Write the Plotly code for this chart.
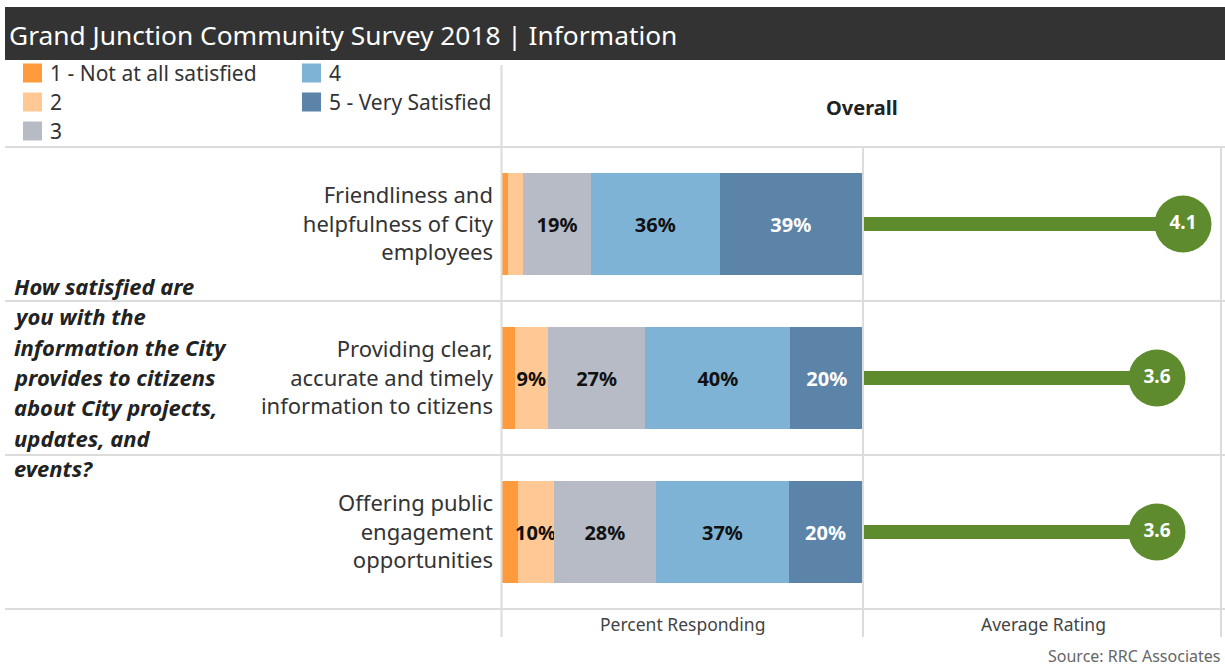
import plotly.graph_objects as go

W, H = 1225, 668

# ---------------- data ----------------
TITLE = "Grand Junction Community Survey 2018 | Information"
QUESTION_LINES = ["How satisfied are", "you with the", "information the City",
                  "provides to citizens", "about City projects,", "updates, and", "events?"]
ITEMS = ["Friendliness and<br>helpfulness of City<br>employees",
         "Providing clear,<br>accurate and timely<br>information to citizens",
         "Offering public<br>engagement<br>opportunities"]
SERIES = ["1 - Not at all satisfied", "2", "3", "4", "5 - Very Satisfied"]
PCT_1 = [1.7, 3.5, 4.3]
PCT_2 = [4.2, 9.2, 10.0]
PCT_3 = [18.7, 27.0, 28.4]
PCT_4 = [35.7, 40.2, 36.7]
PCT_5 = [39.4, 20.1, 20.4]
AVG_RATING = [4.1, 3.6, 3.6]
COLORS = ["#FF9A3D", "#FFC894", "#B6BBC6", "#7FB3D6", "#5C83A8"]
LABEL_COLORS = ["#111111", "#111111", "#111111", "#111111", "#FFFFFF"]
GREEN = "#5F8B2F"
R_MIN, R_MAX = -2.05, 4.83
FONT = "Noto Sans"

PCTS = [PCT_1, PCT_2, PCT_3, PCT_4, PCT_5]


def px_x(x):
    return x / W


def px_y(y):
    return 1 - y / H


fig = go.Figure()

# stacked percent bars
for name, vals, col, lcol in zip(SERIES, PCTS, COLORS, LABEL_COLORS):
    fig.add_trace(go.Bar(
        y=ITEMS, x=vals, orientation="h", name=name,
        marker=dict(color=col, line=dict(width=0)),
        width=0.66,
        text=[f"{round(v)}%" if v >= 8 else "" for v in vals],
        textposition="inside", insidetextanchor="middle", textangle=0,
        constraintext="none",
        textfont=dict(family=FONT, size=20, color=lcol, weight="bold"),
        showlegend=False, xaxis="x", yaxis="y", hoverinfo="skip"))

# average rating lollipop: stem + circle
fig.add_trace(go.Bar(
    y=ITEMS, x=[v - R_MIN for v in AVG_RATING], base=R_MIN, orientation="h",
    marker=dict(color=GREEN, line=dict(width=0)), width=0.09,
    showlegend=False, xaxis="x2", yaxis="y", hoverinfo="skip"))
fig.add_trace(go.Scatter(
    y=ITEMS, x=AVG_RATING, mode="markers+text",
    marker=dict(size=57, color=GREEN, line=dict(width=0)),
    text=[f"{v:.1f}" for v in AVG_RATING], textposition="middle center",
    textfont=dict(family=FONT, size=19, color="white", weight="bold"),
    showlegend=False, xaxis="x2", yaxis="y", hoverinfo="skip", cliponaxis=False))

shapes = []
annotations = []
LINE = dict(color="#DCDCDC", width=2)

# title bar
shapes.append(dict(type="rect", xref="paper", yref="paper",
                   x0=px_x(5), x1=px_x(1225), y0=px_y(60), y1=px_y(7),
                   fillcolor="#333333", line=dict(width=0), layer="below"))
annotations.append(dict(xref="paper", yref="paper", x=px_x(7), y=px_y(35),
                        xanchor="left", yanchor="middle", showarrow=False,
                        text=TITLE, font=dict(family=FONT, size=26.3, color="white")))

# legend (manual, 2 columns)
leg_pos = [(23, 73), (23, 102), (23, 131), (302, 73), (302, 102)]
for (lx, ly), name, col in zip(leg_pos, SERIES, COLORS):
    shapes.append(dict(type="rect", xref="paper", yref="paper",
                       x0=px_x(lx), x1=px_x(lx + 19), y0=px_y(ly + 9.5), y1=px_y(ly - 9.5),
                       fillcolor=col, line=dict(width=0)))
    annotations.append(dict(xref="paper", yref="paper", x=px_x(lx + 25), y=px_y(ly),
                            xanchor="left", yanchor="middle", showarrow=False,
                            text=name, font=dict(family=FONT, size=21, color="#333333")))

# grid lines
for yy in [147, 301, 455, 609]:
    shapes.append(dict(type="line", xref="paper", yref="paper",
                       x0=px_x(5), x1=px_x(1225), y0=px_y(yy), y1=px_y(yy), line=LINE))
shapes.append(dict(type="line", xref="paper", yref="paper",
                   x0=px_x(501.5), x1=px_x(501.5), y0=px_y(65), y1=px_y(637), line=LINE))
for xx in [863, 1221]:
    shapes.append(dict(type="line", xref="paper", yref="paper",
                       x0=px_x(xx), x1=px_x(xx), y0=px_y(148), y1=px_y(637), line=LINE))

# header
annotations.append(dict(xref="paper", yref="paper", x=px_x(862), y=px_y(107),
                        xanchor="center", yanchor="middle", showarrow=False,
                        text="Overall", font=dict(family=FONT, size=20, color="#222222", weight="bold")))

# question text
for i, line in enumerate(QUESTION_LINES):
    annotations.append(dict(xref="paper", yref="paper", x=px_x(12), y=px_y(286 + i * 30.3),
                            xanchor="left", yanchor="middle", showarrow=False, text=line,
                            font=dict(family=FONT, size=22, color="#222222",
                                      weight="bold", style="italic")))

# axis footers
annotations.append(dict(xref="paper", yref="paper", x=px_x(682), y=px_y(624),
                        xanchor="center", yanchor="middle", showarrow=False,
                        text="Percent Responding", font=dict(family=FONT, size=17.5, color="#444444")))
annotations.append(dict(xref="paper", yref="paper", x=px_x(1043), y=px_y(624),
                        xanchor="center", yanchor="middle", showarrow=False,
                        text="Average Rating", font=dict(family=FONT, size=17.5, color="#444444")))
annotations.append(dict(xref="paper", yref="paper", x=px_x(1222), y=px_y(656),
                        xanchor="right", yanchor="middle", showarrow=False,
                        text="Source: RRC Associates", font=dict(family=FONT, size=16, color="#666666")))

fig.update_layout(
    width=W, height=H, barmode="stack",
    margin=dict(l=0, r=0, t=0, b=0),
    paper_bgcolor="white", plot_bgcolor="white",
    font=dict(family=FONT),
    xaxis=dict(domain=[px_x(502), px_x(863)], range=[0, 100], visible=False, fixedrange=True),
    xaxis2=dict(domain=[px_x(863), px_x(1221)], range=[R_MIN, R_MAX], visible=False,
                anchor="y", fixedrange=True),
    yaxis=dict(domain=[px_y(609), px_y(147)], type="category", autorange="reversed",
               showgrid=False, zeroline=False, showline=False, ticks="",
               tickfont=dict(family=FONT, size=22, color="#333333"), ticklabelstandoff=8,
               fixedrange=True),
    shapes=shapes, annotations=annotations,
)

fig.write_html("out.html", config={"displayModeBar": False},
               post_script="document.body.style.margin='0';document.body.style.overflow='hidden';")
